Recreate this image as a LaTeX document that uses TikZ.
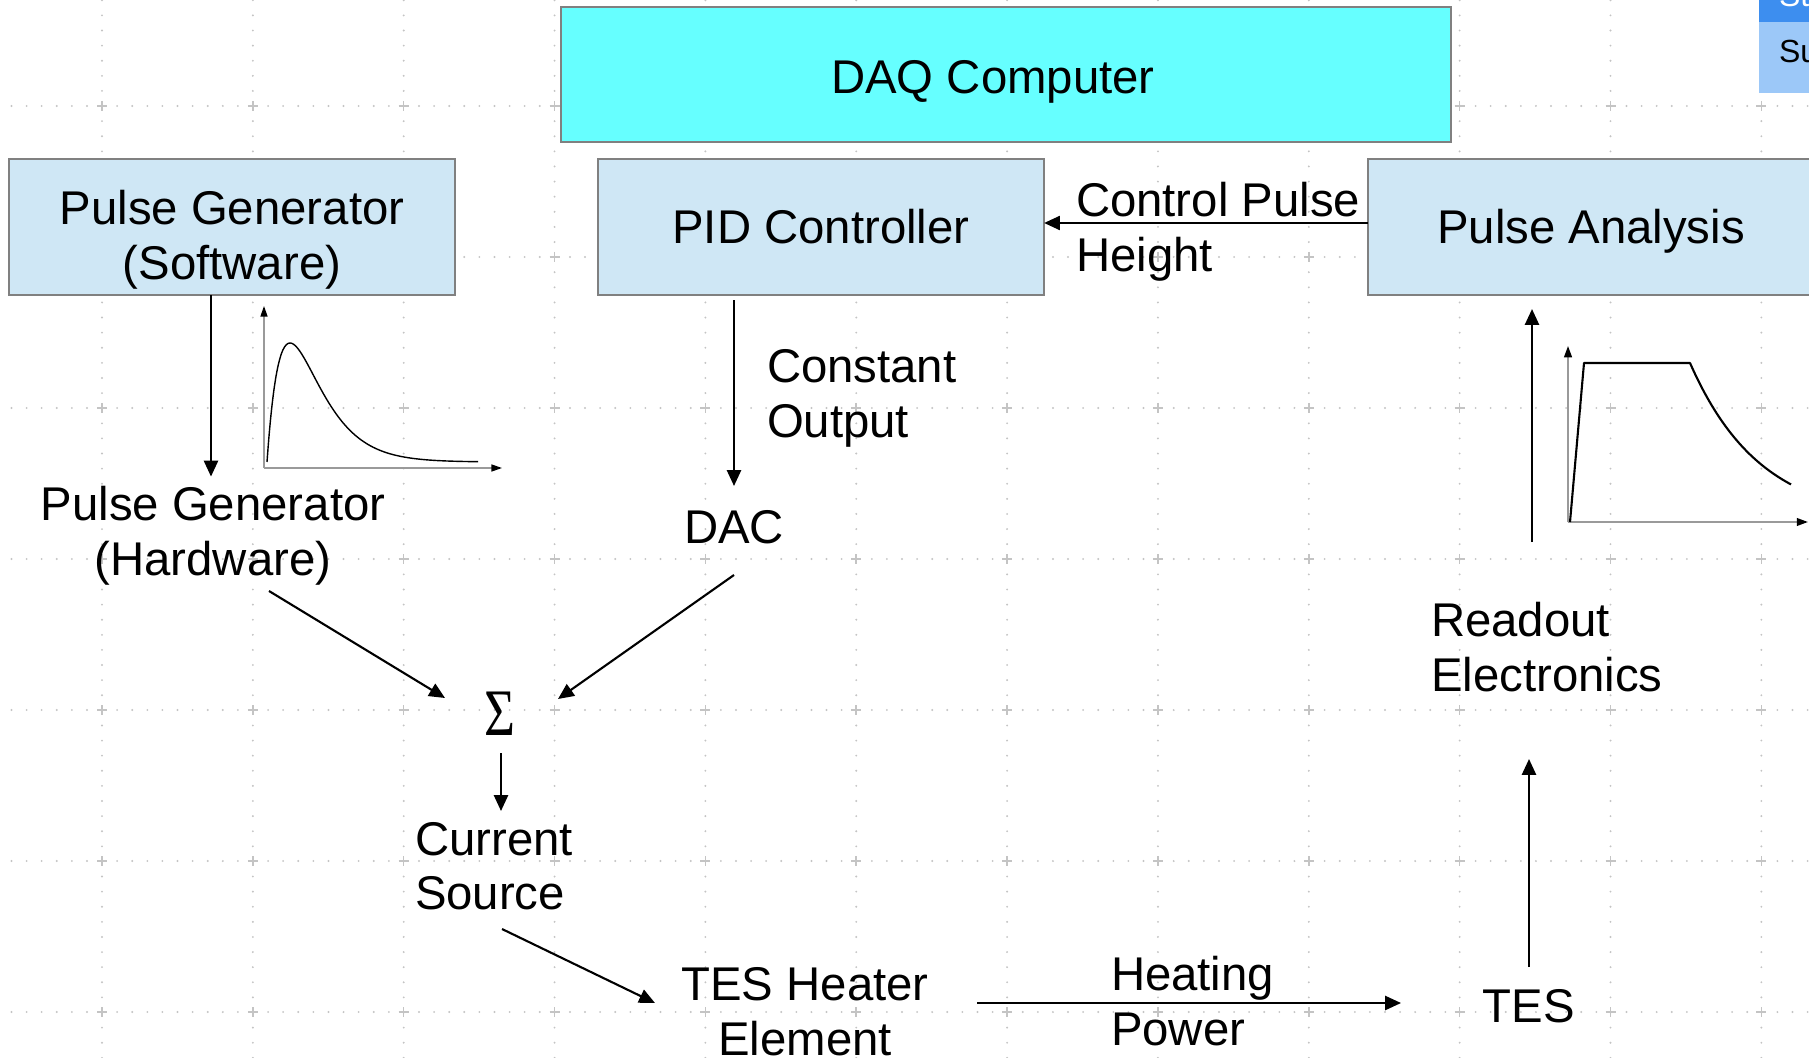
\documentclass[tikz,border=0pt]{standalone}
\usepackage{graphicx}
\usepackage{fontspec}
\setmainfont{Liberation Sans}
\newfontfamily\sigmafont{Liberation Serif}
\usetikzlibrary{arrows.meta}
\definecolor{boxblue}{HTML}{CFE7F5}
\definecolor{daqcyan}{HTML}{66FFFF}
\definecolor{boxborder}{HTML}{808080}
\definecolor{griddot}{HTML}{C4C4C4}
\definecolor{tabdark}{HTML}{3D8EEF}
\definecolor{tablight}{HTML}{9CC8F8}
\definecolor{axisgray}{HTML}{9A9A9A}
\newcommand{\lst}{\rule[-2.93pt]{0pt}{15.48pt}}
\begin{document}
\begin{tikzpicture}[x=0.01cm,y=-0.01cm,
  every node/.style={inner sep=0pt,outer sep=0pt},
  txt/.style={font=\fontsize{13.46}{15.48}\selectfont},
  box/.style={draw=boxborder,line width=0.55pt,fill=boxblue,minimum width=4.46cm,minimum height=1.36cm,txt},
  arr/.style={line width=0.6pt,-{Triangle[length=4.5pt,width=4pt]}},
  griddotsv/.style={draw=griddot,line width=0.6pt,line cap=round,dash pattern=on 0pt off 4.296pt},
  griddotsh/.style={draw=griddot,line width=0.6pt,line cap=round,dash pattern=on 0pt off 4.292pt},
  gridcross/.style={draw=griddot,line width=0.45pt},
  axisthin/.style={draw=axisgray,line width=0.35pt,-{Triangle[length=3pt,width=2pt,color=black]}},
  axisthick/.style={draw=axisgray,line width=0.5pt,-{Triangle[length=3.2pt,width=2.2pt,color=black]}}
]
\useasboundingbox (0,0) rectangle (1809,1058);
\clip (0,0) rectangle (1809,1058);
\fill[white] (0,0) rectangle (1809,1058);

% grid
\foreach \k in {0,...,11} {
  \draw[griddotsv] ({102+150.85*\k},0.3) -- ({102+150.85*\k},1058);
}
\foreach \m in {0,...,6} {
  \draw[griddotsh] (11.49,{106+151*\m}) -- (1809,{106+151*\m});
}
\foreach \k in {0,...,11} {
  \foreach \m in {0,...,6} {
    \draw[gridcross] ({102+150.85*\k-5},{106+151*\m}) -- ++(10,0)
                     ({102+150.85*\k},{106+151*\m-5}) -- ++(0,10);
  }
}

% graph 1 (pulse generator)
\draw[axisthin] (264,468) -- (264,306);
\draw[axisthin] (264,468) -- (502,468);
\draw[line width=0.4pt] plot[domain=0:211,samples=120,smooth] ({267+\x},{462-119*(\x/23)*exp(1-\x/23)});

% graph 2 (pulse analysis)
\draw[axisthick] (1568,522) -- (1568,346);
\draw[axisthick] (1568,522) -- (1808,522);
\draw[line width=0.6pt,line join=round] (1570,522) -- (1584,363) -- (1690,363)
  -- plot[domain=0:101,samples=60,smooth] ({1690+\x},{522-159*exp(-\x/70)});

% boxes
\node[box,fill=daqcyan,minimum width=8.9cm,minimum height=1.35cm] (daq) at (1006,74.5) {\rule[-2.93pt]{0pt}{16.9pt}DAQ Computer\kern0.26cm};
\node[box,align=center] (sw) at (232,227) {\rule[-2.93pt]{0pt}{20.03pt}Pulse Generator\\\lst (Software)};
\node[box] (pid) at (821,227) {\lst PID Controller};
\node[box] (pa) at (1591,227) {\lst Pulse Analysis};

% texts
\node[txt,align=center] (hw) at (213,531) {\lst Pulse Generator\\\lst (Hardware)};
\node[txt] (dac) at (734,527) {\lst DAC};
\node[txt,anchor=west,align=left] (co) at (767,393) {\lst Constant\\\lst Output};
\node[txt,anchor=west,align=left] (cp) at (1076,227) {\lst Control Pulse\\\lst Height};
\node[font=\sigmafont\fontsize{18.9}{20}\selectfont] (sig) at (500,714) {\scalebox{0.8}[1]{Σ}};
\node[txt,anchor=west,align=left] (cs) at (415,865.5) {\lst Current\\\lst Source};
\node[txt,align=center] (teh) at (805,1011) {\lst TES Heater\\\lst Element};
\node[txt,anchor=west,align=left] (hp) at (1111,1001) {\lst Heating\\\lst Power};
\node[txt] (tes) at (1529,1006) {\lst TES};
\node[txt,anchor=west,align=left] (ro) at (1431,647) {\lst Readout\\\lst Electronics};

% connectors
\draw[arr] ([shift={(-21,0)}]sw.south) -- ([shift={(-2,0)}]hw.north);
\draw[arr] ([shift={(56,60)}]hw.center) -- ([shift={(-55,-16)}]sig.center);
\draw[arr] ([shift={(-87,5)}]pid.south) -- ([shift={(0,-41)}]dac.center);
\draw[arr] ([shift={(0,48)}]dac.center) -- ([shift={(58,-15)}]sig.center);
\draw[arr] ([shift={(1,39)}]sig.center) -- ([shift={(86,-54.5)}]cs.west);
\draw[arr] ([shift={(87,63.5)}]cs.west) -- ([shift={(-150,-8)}]teh.center);
\draw[arr] ([shift={(172,-8)}]teh.center) -- ([shift={(-128,-3)}]tes.center);
\draw[arr] ([shift={(0,-39)}]tes.center) -- ([shift={(98,112)}]ro.west);
\draw[arr] ([shift={(101,-105)}]ro.west) -- ([shift={(-59,14)}]pa.south);
\draw[arr] ([shift={(0,-4)}]pa.west) -- ([shift={(0,-4)}]pid.east);

% top-right tab
\fill[tabdark] (1759,0) rectangle (1809,22);
\fill[tablight] (1759,22) rectangle (1809,93);
\node[anchor=base west,font=\fontsize{9.1}{11}\selectfont,text=white] (st) at (1779,7) {St};
\node[anchor=base west,font=\fontsize{9.1}{11}\selectfont] (su) at (1779,63) {Su};
\end{tikzpicture}
\end{document}
